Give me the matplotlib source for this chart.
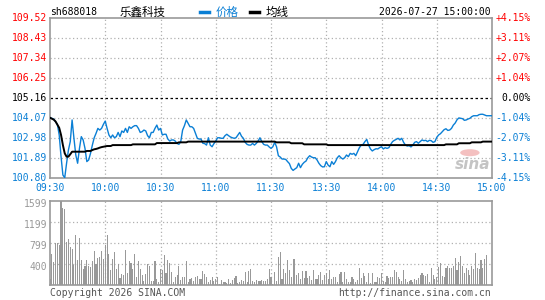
import matplotlib
matplotlib.use("Agg")
import matplotlib.pyplot as plt
from matplotlib.lines import Line2D
from matplotlib.patches import Circle
from matplotlib.transforms import blended_transform_factory, offset_copy

# ---------------- data ----------------
prev_close = 105.16
price_ticks = [109.52, 108.43, 107.34, 106.25, 105.16, 104.07, 102.98, 101.89, 100.80]
pct_labels = ['+4.15%', '+3.11%', '+2.07%', '+1.04%', '0.00%', '-1.04%', '-2.07%', '-3.11%', '-4.15%']
time_pos = [0, 30, 60, 90, 120, 150, 180, 210, 240]
time_labels = ['09:30', '10:00', '10:30', '11:00', '11:30', '13:30', '14:00', '14:30', '15:00']
vol_ticks = [1599, 1199, 799, 400]

price = [
    104.10, 104.07, 104.03, 103.89, 103.74, 103.16, 101.98, 100.98, 100.83, 101.62,
    102.34, 102.80, 103.98, 102.98, 102.07, 101.62, 102.43, 103.07, 102.89, 102.43,
    101.71, 101.80, 102.16, 102.61, 103.01, 103.25, 103.52, 103.43, 103.52, 103.74,
    103.92, 103.52, 103.16, 103.01, 103.16, 103.01, 103.07, 103.30, 103.07, 103.38,
    103.30, 103.52, 103.30, 103.61, 103.52, 103.61, 103.67, 103.67, 103.52, 103.30,
    103.34, 103.43, 103.38, 103.12, 103.01, 103.30, 103.30, 103.52, 103.70, 103.43,
    103.52, 103.16, 103.20, 103.20, 102.94, 102.83, 102.89, 102.89, 102.83, 102.70,
    102.65, 102.80, 103.43, 103.67, 103.98, 103.80, 103.61, 103.61, 103.52, 103.25,
    102.98, 102.94, 102.94, 102.71, 102.69, 102.61, 103.01, 102.61, 102.52, 102.69,
    102.83, 103.01, 103.01, 102.98, 102.98, 103.12, 103.20, 103.12, 103.05, 103.01,
    102.98, 103.01, 103.16, 103.30, 103.09, 102.98, 102.76, 102.65, 102.61, 102.61,
    102.70, 102.61, 102.70, 102.83, 103.01, 102.80, 102.65, 102.61, 102.61, 102.51,
    102.43, 102.52, 102.76, 102.52, 102.03, 101.96, 101.85, 101.85, 101.83, 101.71,
    101.60, 101.34, 101.23, 101.31, 101.38, 101.62, 101.38, 101.56, 101.67, 101.74,
    101.92, 102.03, 101.96, 101.92, 101.92, 101.80, 101.62, 101.49, 101.42, 101.43,
    101.71, 101.52, 101.43, 101.71, 101.56, 101.71, 101.92, 102.03, 101.92, 101.85,
    101.92, 102.07, 101.98, 102.16, 102.11, 102.16, 102.03, 102.25, 102.47, 102.61,
    102.65, 102.80, 102.92, 102.61, 102.40, 102.29, 102.36, 102.41, 102.40, 102.47,
    102.52, 102.40, 102.47, 102.43, 102.47, 102.65, 102.80, 102.87, 102.92, 102.98,
    102.89, 102.98, 102.76, 102.61, 102.56, 102.58, 102.51, 102.61, 102.76, 102.80,
    102.71, 102.80, 102.89, 102.85, 102.87, 102.80, 102.87, 102.85, 102.76, 102.80,
    103.03, 103.16, 103.23, 103.34, 103.45, 103.50, 103.41, 103.43, 103.52, 103.70,
    103.81, 103.99, 104.09, 104.07, 104.05, 103.96, 103.98, 104.03, 104.07, 104.16,
    104.21, 104.21, 104.21, 104.27, 104.29, 104.29, 104.25, 104.21, 104.21, 104.21,
    104.21,
]

avg_price = [
    104.10, 104.05, 104.00, 103.90, 103.72, 103.55, 103.16, 102.61, 102.16, 101.98,
    101.98, 102.11, 102.25, 102.25, 102.25, 102.25, 102.25, 102.25, 102.25, 102.25,
    102.29, 102.29, 102.29, 102.34, 102.38, 102.40, 102.43, 102.47, 102.50, 102.52,
    102.54, 102.56, 102.56, 102.56, 102.61, 102.61, 102.61, 102.61, 102.61, 102.61,
    102.61, 102.61, 102.61, 102.61, 102.61, 102.65, 102.65, 102.65, 102.65, 102.65,
    102.65, 102.65, 102.65, 102.65, 102.65, 102.65, 102.65, 102.65, 102.72, 102.72,
    102.72, 102.72, 102.72, 102.72, 102.72, 102.72, 102.72, 102.72, 102.72, 102.72,
    102.76, 102.76, 102.76, 102.76, 102.76, 102.80, 102.80, 102.80, 102.80, 102.80,
    102.80, 102.80, 102.80, 102.80, 102.80, 102.80, 102.80, 102.80, 102.80, 102.80,
    102.80, 102.80, 102.80, 102.80, 102.80, 102.80, 102.80, 102.80, 102.80, 102.80,
    102.80, 102.80, 102.80, 102.80, 102.80, 102.80, 102.80, 102.80, 102.80, 102.80,
    102.80, 102.80, 102.80, 102.80, 102.80, 102.80, 102.80, 102.80, 102.80, 102.80,
    102.80, 102.80, 102.80, 102.76, 102.76, 102.76, 102.76, 102.76, 102.76, 102.76,
    102.76, 102.71, 102.71, 102.71, 102.71, 102.71, 102.71, 102.71, 102.65, 102.65,
    102.65, 102.65, 102.65, 102.65, 102.65, 102.65, 102.65, 102.65, 102.65, 102.65,
    102.65, 102.61, 102.61, 102.61, 102.61, 102.61, 102.61, 102.61, 102.61, 102.61,
    102.61, 102.61, 102.61, 102.61, 102.61, 102.61, 102.61, 102.61, 102.61, 102.61,
    102.61, 102.61, 102.61, 102.61, 102.61, 102.61, 102.61, 102.61, 102.61, 102.61,
    102.61, 102.61, 102.61, 102.61, 102.61, 102.61, 102.61, 102.61, 102.61, 102.61,
    102.61, 102.61, 102.61, 102.61, 102.61, 102.61, 102.61, 102.61, 102.61, 102.61,
    102.61, 102.61, 102.61, 102.61, 102.61, 102.61, 102.61, 102.61, 102.61, 102.61,
    102.61, 102.61, 102.61, 102.61, 102.61, 102.65, 102.65, 102.65, 102.65, 102.65,
    102.65, 102.65, 102.71, 102.71, 102.71, 102.71, 102.71, 102.71, 102.71, 102.76,
    102.76, 102.76, 102.76, 102.76, 102.76, 102.80, 102.80, 102.80, 102.80, 102.80,
    102.80,
]

volume = [
    127, 597, 445, 806, 806, 775, 1599, 1473, 1460, 826,
    883, 730, 692, 394, 965, 489, 908, 489, 318, 362,
    489, 362, 349, 470, 648, 406, 521, 546, 648, 508,
    775, 953, 597, 298, 508, 635, 318, 406, 140, 216,
    191, 673, 229, 470, 425, 318, 597, 152, 470, 305,
    191, 89, 216, 406, 362, 89, 76, 470, 121, 64,
    311, 298, 572, 235, 483, 425, 254, 64, 152, 191,
    362, 108, 159, 159, 470, 64, 127, 140, 89, 150,
    172, 121, 121, 267, 216, 152, 64, 108, 152, 76,
    127, 152, 25, 108, 64, 64, 44, 127, 44, 108,
    140, 172, 44, 64, 95, 76, 254, 64, 267, 311,
    89, 64, 102, 89, 89, 102, 89, 76, 127, 318,
    152, 25, 254, 89, 533, 635, 127, 311, 235, 483,
    298, 152, 502, 502, 203, 235, 127, 279, 140, 279,
    140, 172, 108, 292, 127, 127, 191, 254, 108, 191,
    235, 127, 292, 127, 152, 152, 64, 216, 254, 64,
    254, 127, 64, 64, 159, 121, 64, 108, 330, 140,
    229, 172, 64, 229, 38, 229, 64, 64, 152, 140,
    229, 76, 64, 172, 140, 159, 152, 292, 254, 159,
    121, 89, 292, 127, 64, 76, 108, 64, 121, 108,
    140, 203, 229, 191, 178, 216, 64, 330, 203, 127,
    165, 343, 419, 184, 159, 330, 362, 330, 330, 362,
    521, 292, 445, 559, 362, 241, 330, 292, 203, 362,
    318, 616, 330, 318, 489, 330, 502, 572, 0, 0,
    0,
]

# ---------------- styles ----------------
W, H = 545, 300
RED = '#ff0000'
BLUE = '#0a7fd5'
GRID = '#b0b0b0'
BORDER = '#999999'
MONO = 'DejaVu Sans Mono'
CJK = ['Noto Sans CJK SC', 'DejaVu Sans']
FS = 7

fig = plt.figure(figsize=(W / 100, H / 100), dpi=100)
fig.patch.set_facecolor('white')

def px(x, y):
    return x / W, 1 - y / H

L, R = 50, 492
ax1 = fig.add_axes([L / W, 1 - 178.3 / H, (R - L) / W, 160 / H])
ax2 = fig.add_axes([L / W, 1 - 285.3 / H, (R - L) / W, 84 / H])

x = list(range(len(price)))

for ax in (ax1, ax2):
    ax.set_xlim(0, 240)
    ax.set_xticks([])
    ax.set_yticks([])
    for s in ax.spines.values():
        s.set_color(BORDER)
        s.set_linewidth(1.2)
    for t in time_pos[1:-1]:
        ax.axvline(t, color=GRID, lw=0.9, ls=(0, (1, 2)), zorder=1)

# price panel
ax1.set_ylim(price_ticks[-1], price_ticks[0])
for v in price_ticks[1:-1]:
    if abs(v - prev_close) < 1e-6:
        ax1.axhline(v, color='black', lw=0.9, ls=(0, (2, 2)), zorder=1)
    else:
        ax1.axhline(v, color=GRID, lw=0.9, ls=(0, (1, 2)), zorder=1)

ax1.plot(x, price, color=BLUE, lw=1.0, zorder=3)
ax1.plot(x, avg_price, color='black', lw=1.4, zorder=4)

ltrans = offset_copy(blended_transform_factory(ax1.transAxes, ax1.transData), fig=fig, x=-3, y=0, units='dots')
rtrans = offset_copy(blended_transform_factory(ax1.transAxes, ax1.transData), fig=fig, x=39, y=0, units='dots')
for v, lab in zip(price_ticks, pct_labels):
    if v > prev_close + 1e-6:
        c = RED
    elif v < prev_close - 1e-6:
        c = BLUE
    else:
        c = 'black'
    ax1.text(0, v, f'{v:.2f}', transform=ltrans, ha='right', va='center',
             fontsize=FS, family=MONO, color=c, clip_on=False)
    ax1.text(1, v, lab, transform=rtrans, ha='right', va='center',
             fontsize=FS, family=MONO, color=c, clip_on=False)

ttrans = offset_copy(blended_transform_factory(ax1.transData, ax1.transAxes), fig=fig, x=0, y=-10, units='dots')
for t, lab in zip(time_pos, time_labels):
    ax1.text(t, 0, lab, transform=ttrans, ha='center', va='center',
             fontsize=FS, family=MONO, color=BLUE, clip_on=False)

# sina watermark
ax1.add_patch(Circle((0.95, 0.16), 0.022, transform=ax1.transAxes,
                     facecolor='#f4c0c0', edgecolor='none', zorder=2))
ax1.text(0.955, 0.085, 'sina', transform=ax1.transAxes, ha='center', va='center',
         fontsize=11, fontstyle='italic', fontweight='bold', color='#c4c4c4', zorder=2)

# volume panel
ax2.set_ylim(0, vol_ticks[0])
for v in vol_ticks[1:]:
    ax2.axhline(v, color=GRID, lw=0.9, ls=(0, (1, 2)), zorder=1)
ax2.bar(x, volume, width=0.6, color='#999999', zorder=3, linewidth=0)
vtrans = offset_copy(blended_transform_factory(ax2.transAxes, ax2.transData), fig=fig, x=-3, y=-3, units='dots')
for v in vol_ticks:
    ax2.text(0, v, str(v), transform=vtrans, ha='right', va='center',
             fontsize=FS, family=MONO, color='#999999', clip_on=False)

# header
fig.text(*px(50, 12), 'sh688018', ha='left', va='center', fontsize=FS, family=MONO, color='black')
fig.text(*px(120, 12), '乐鑫科技', ha='left', va='center', fontsize=8.3, family=CJK, color='black')
fig.add_artist(Line2D([200 / W, 209 / W], [1 - 12 / H] * 2, color=BLUE, lw=2.5))
fig.text(*px(216, 12), '价格', ha='left', va='center', fontsize=8.3, family=CJK, color=BLUE)
fig.add_artist(Line2D([250 / W, 259 / W], [1 - 12 / H] * 2, color='black', lw=2.5))
fig.text(*px(266, 12), '均线', ha='left', va='center', fontsize=8.3, family=CJK, color='black')
fig.text(*px(491, 12), '2026-07-27 15:00:00', ha='right', va='center', fontsize=FS, family=MONO, color='black')

# footer
fig.text(*px(50, 293), 'Copyright 2026 SINA.COM', ha='left', va='center', fontsize=FS, family=MONO, color='#555555')
fig.text(*px(491, 293), 'http://finance.sina.com.cn', ha='right', va='center', fontsize=FS, family=MONO, color='#555555')

fig.savefig('out.png', dpi=100, facecolor='white')
